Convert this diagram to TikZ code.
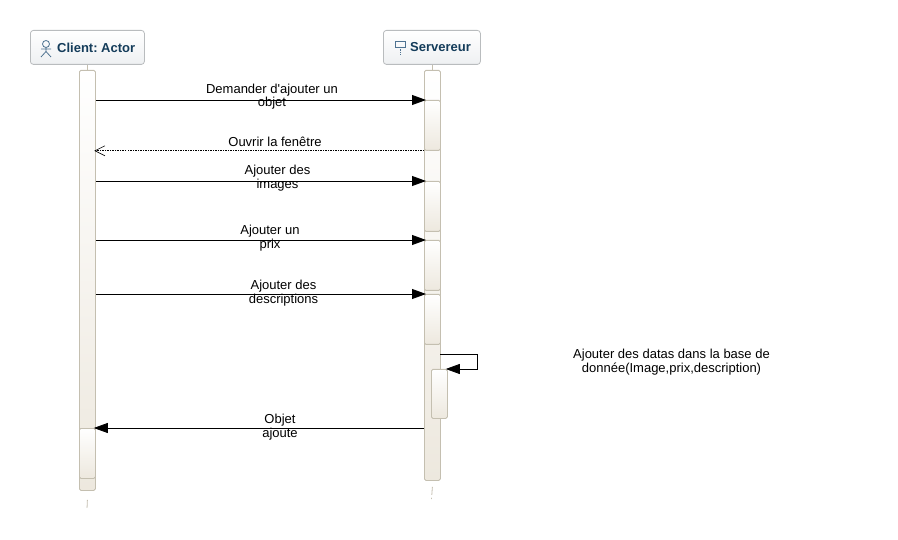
\documentclass[tikz,border=0pt]{standalone}
\usepackage{fontspec}
\setmainfont{Liberation Sans}
\newfontfamily\plainf{Liberation Sans}
\usetikzlibrary{arrows.meta,calc,positioning}
\definecolor{edgegrey}{HTML}{C4BFB0}
\definecolor{beige}{HTML}{EDE8DE}
\definecolor{headtext}{HTML}{143C5A}
\definecolor{headedge}{HTML}{B9BCBE}
\definecolor{headlow}{HTML}{EEF0F2}
\definecolor{iconblue}{HTML}{4F7391}
\tikzset{
  x=1pt,y=-1pt,
  head/.style={draw=headedge,line width=.8pt,rounded corners=3pt,top color=white,bottom color=headlow,minimum height=34pt,inner sep=0pt,anchor=north west},
  activation/.style={draw=edgegrey,line width=.8pt,rounded corners=1.5pt,minimum width=16pt,inner sep=0pt,anchor=north west,top color=white,bottom color=beige},
  life/.style={draw=edgegrey,line width=.8pt},
  msg/.style={draw=black,line width=.8pt,shorten >=-2pt,-{Triangle[length=14pt,width=10pt]}},
  retmsg/.style={draw=black,line width=.6pt,shorten >=-1.5pt,-{Straight Barb[length=10pt,width=10pt,line width=.6pt]},dash pattern=on 1.5pt off 1pt},
  lab/.style={font=\fontsize{13}{13.4}\selectfont,align=center,inner sep=0pt,text=black},
  headlab/.style={font=\fontsize{13}{14}\selectfont\bfseries\frenchspacing,text=headtext,anchor=west,inner sep=0pt},
  icon/.style={draw=iconblue,line width=.8pt},
}
\begin{document}
\begin{tikzpicture}
\useasboundingbox (0,0) rectangle (898,540);
\coordinate (cend) at (87,509);
\coordinate (send) at (431.5,499);
\node[head,minimum width=114pt] (client) at (30,30) {};
\node[head,minimum width=97pt] (server) at (383,30) {};
\node[activation,minimum height=420pt] (cmain) at (79,70) {};
\node[activation,minimum height=410pt] (smain) at (424,70) {};
\draw[life] (client.south -| cmain.north) -- (cmain.north);
\draw[life] (server.south -| smain.north) -- (smain.north);
\draw[life,dash pattern=on 8pt off 3pt] (cmain.south) ++(0,9) -- (cend);
\draw[life,dash pattern=on 8pt off 3pt] (smain.south) ++(0,6) -- (send);
\node[activation,minimum height=50pt] (s1) at (424,100) {};
\node[activation,minimum height=50pt] (s2) at (424,181) {};
\node[activation,minimum height=50pt] (s3) at (424,240) {};
\node[activation,minimum height=50pt] (s4) at (424,294) {};
\node[activation,minimum height=49pt] (self) at (431,369) {};
\node[activation,minimum height=50pt] (c1) at (79,428) {};
\draw[msg] (cmain.east |- s1.north west) -- (s1.north west);
\draw[retmsg] (s1.south west) -- (cmain.east |- s1.south west);
\draw[msg] (cmain.east |- s2.north west) -- (s2.north west);
\draw[msg] (cmain.east |- s3.north west) -- (s3.north west);
\draw[msg] (cmain.east |- s4.north west) -- (s4.north west);
\draw[msg] (smain.west |- c1.north east) -- (c1.north east);
\coordinate (selfstart) at (440,354);
\draw[msg] (selfstart) -| (477.5,369) -- (self.north east);
\node[headlab] (clabel) at (57,47.5) {Client: Actor};
\node[headlab] (slabel) at (410,47.5) {Servereur};
\draw[icon] (46,44) circle (3.5);
\draw[icon] (46,47.5) -- (46,51.5) (41,49) -- (51,49) (41,57) -- (46,51.5) -- (51,57);
\draw[icon] (395.5,41) rectangle (405.5,47);
\draw[icon,dash pattern=on 1.5pt off 1pt] (400.5,47) -- (400.5,55);
\node[lab] (t1) at (272,96.8) {Demander d{\plainf '}ajouter un\\objet};
\node[lab] (t2) at (275,142) {Ouvrir la fenêtre};
\node[lab] (t3) at (277.5,178) {Ajouter des\\images};
\node[lab] (t4) at (270,238) {Ajouter un\\prix};
\node[lab] (t5) at (283.5,293) {Ajouter des\\descriptions};
\node[lab] (t6) at (671.5,362) {Ajouter des datas dans la base de\\donnée(Image,prix,description)};
\node[lab] (t7) at (280,427) {Objet\\ajoute};
\end{tikzpicture}
\end{document}
